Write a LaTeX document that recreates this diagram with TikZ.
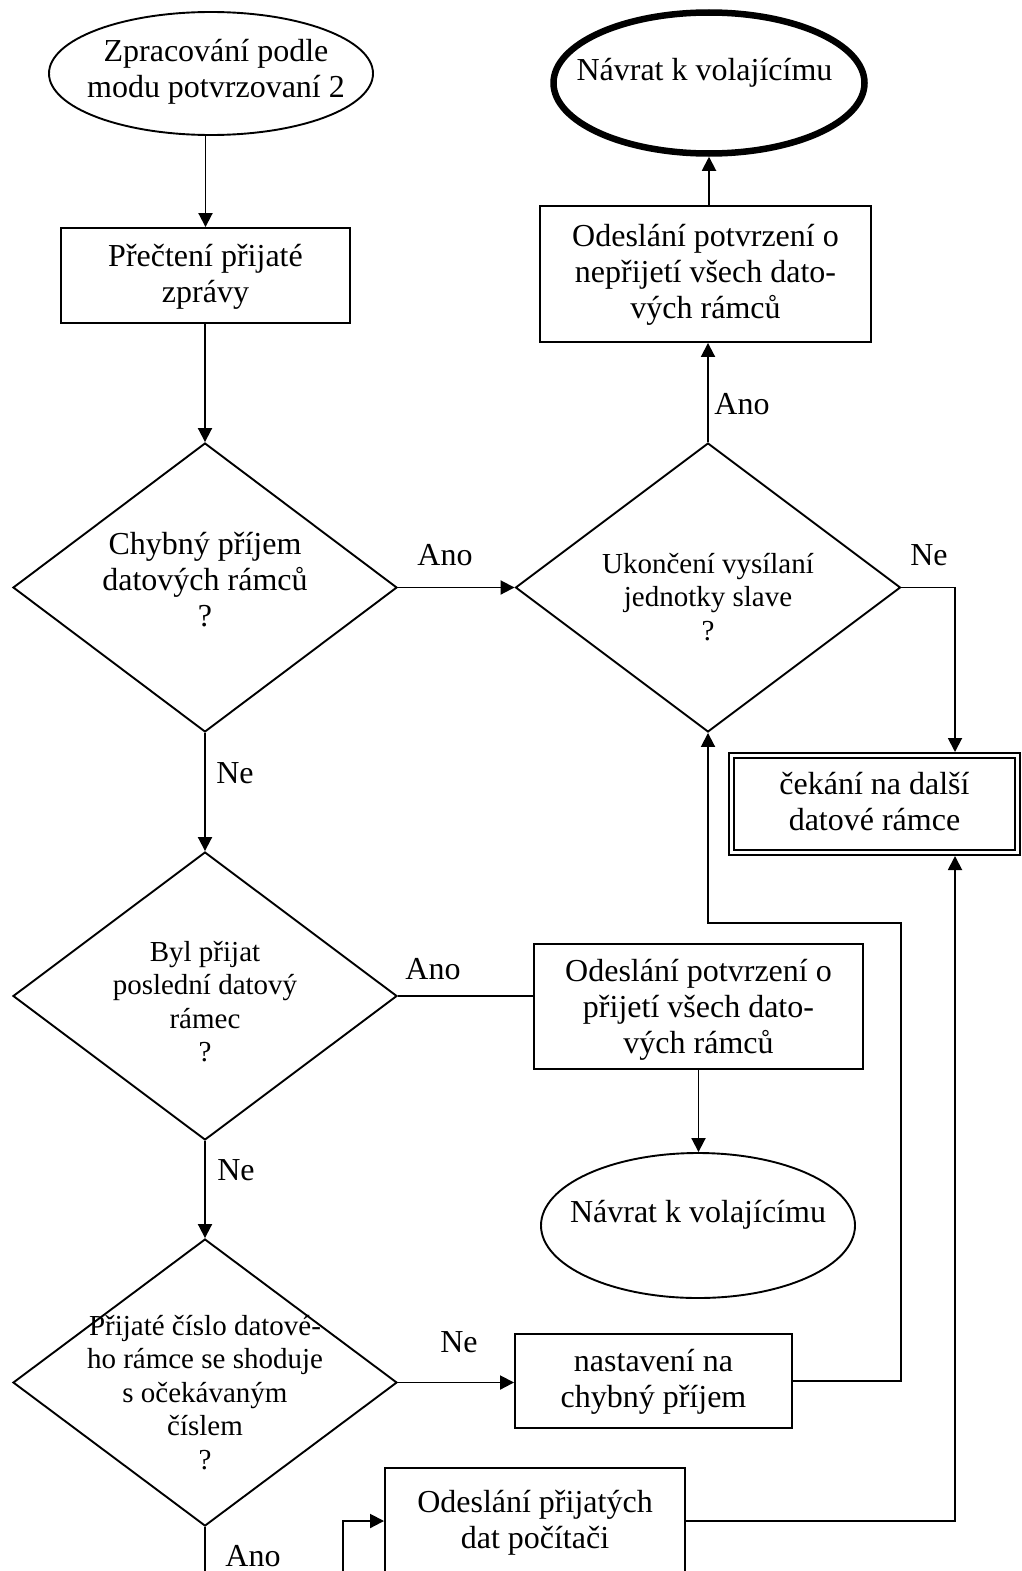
\documentclass[tikz,border=0pt]{standalone}
\usepackage{fontspec}
\setmainfont{Liberation Serif}
\usetikzlibrary{shapes.geometric,arrows.meta}
% multi-line node text; #1 = height of the first baseline above the node centre.
% The text takes no room of its own, so each shape keeps its given size.
\newcommand\tx[2]{\raisebox{#1}[0pt][0pt]{\makebox[0pt]{\begin{tabular}[t]{@{}c@{}}#2\end{tabular}}}}
\newcommand\pad[1]{\rule{#1}{0pt}}
\begin{document}
\begin{tikzpicture}[x=1pt,y=-1pt,
  line width=1.9pt,
  shape base/.style={draw, inner sep=0pt, font=\fontsize{32}{36}\selectfont},
  smalltext/.style={font=\fontsize{29}{33.5}\selectfont},
  box/.style={shape base, rectangle},
  decision/.style={shape base, diamond},
  term/.style={shape base, ellipse},
  arr/.style={-{Triangle[length=14pt,width=14pt]}},
  lbl/.style={inner sep=0pt, font=\fontsize{32}{36}\selectfont},
]
\useasboundingbox (0,0) rectangle (1022,1571);
\clip (0,0) rectangle (1022,1571);

% ---- main column ----
\node[term, minimum width=324pt, minimum height=123pt] (start) at (211,73.5)
  {\tx{11.5pt}{\pad{10pt}Zpracování podle\\\pad{10pt}modu potvrzovaní 2}};
\node[box, minimum width=289pt, minimum height=95pt] (read) at (205.5,275.5)
  {\tx{9.5pt}{Přečtení přijaté\\zprávy}};
\node[decision, minimum width=384pt, minimum height=289pt] (d1) at (205,587.5)
  {\tx{33.5pt}{Chybný příjem\\datových rámců\\?}};
\node[decision, smalltext, minimum width=384pt, minimum height=288pt] (d3) at (205,996)
  {\tx{35pt}{Byl přijat\\poslední datový\\rámec\\?}};
\node[decision, smalltext, minimum width=384pt, minimum height=287pt] (d4) at (205,1382.5)
  {\tx{47.5pt}{Přijaté číslo datové-\\ho rámce se shoduje\\s očekávaným\\číslem\\?}};

% ---- right part ----
\node[decision, smalltext, minimum width=385pt, minimum height=289pt] (d2) at (708,587.5)
  {\tx{14.5pt}{Ukončení vysílaní\\jednotky slave\\?}};
\node[box, minimum width=331pt, minimum height=136pt] (nack) at (705.5,274)
  {\tx{28pt}{Odeslání potvrzení o\\nepřijetí všech dato-\\vých rámců}};
\node[term, line width=6.5pt, minimum width=311pt, minimum height=141pt] (ret1) at (709,83)
  {\tx{2pt}{Návrat k volajícímu\pad{9pt}}};
\node[box, double, double distance=3pt, line width=2pt, outer sep=3.5pt,
      minimum width=286pt, minimum height=97pt] (wait) at (874.5,804)
  {\tx{10pt}{čekání na další\\datové rámce}};
\node[box, minimum width=329pt, minimum height=125pt] (ack) at (698.5,1006.5)
  {\tx{25.5pt}{Odeslání potvrzení o\\přijetí všech dato-\\vých rámců}};
\node[term, minimum width=314pt, minimum height=145pt] (ret2) at (698,1225.5)
  {\tx{3.5pt}{Návrat k volajícímu}};
\node[box, minimum width=277pt, minimum height=94pt] (err) at (653.5,1381)
  {\tx{10pt}{nastavení na\\chybný příjem}};
\node[box, minimum width=300pt, minimum height=106pt] (send) at (535,1521)
  {\tx{9pt}{Odeslání přijatých\\dat počítači}};

% ---- bends and loose ends ----
\coordinate (fb) at (901,923);
\coordinate (outD) at (205,1590);
\coordinate (inS) at (343,1590);

% ---- connectors ----
\draw[arr] (start.south -| read.north) -- (read.north);
\draw[arr] (read.south -| d1.north) -- (d1.north);
\draw[arr] (d1.east) -- (d2.west);
\draw[arr] (d2.north) -- (d2.north |- nack.south);
\draw[arr] (nack.north -| ret1.south) -- (ret1.south);
\draw[arr] (d2.east) -| ([xshift=80.5pt]wait.north);
\draw[arr] (d1.south) -- (d3.north);
\draw (d3.east) -- (ack.west |- d3.east);
\draw[arr] (ack.south) -- (ack.south |- ret2.north);
\draw[arr] (d3.south) -- (d4.north);
\draw[arr] (d4.east) -- (err.west |- d4.east);
\draw[arr] (err.east) -| (fb) -| (d2.south);
\draw[arr] (send.east) -| ([xshift=80.5pt]wait.south);
\draw (d4.south) -- (outD);
\draw[arr] (inS) |- (send.west);

% ---- branch labels ----
\node[lbl] (l-ano1) at (445,555) {Ano};
\node[lbl] (l-ne1) at (929,555) {Ne};
\node[lbl] (l-ano2) at (742,404) {Ano};
\node[lbl] (l-ne2) at (235,773) {Ne};
\node[lbl] (l-ano3) at (433,969) {Ano};
\node[lbl] (l-ne3) at (236,1170) {Ne};
\node[lbl] (l-ne4) at (459,1342) {Ne};
\node[lbl] (l-ano4) at (253,1556) {Ano};
\end{tikzpicture}
\end{document}
